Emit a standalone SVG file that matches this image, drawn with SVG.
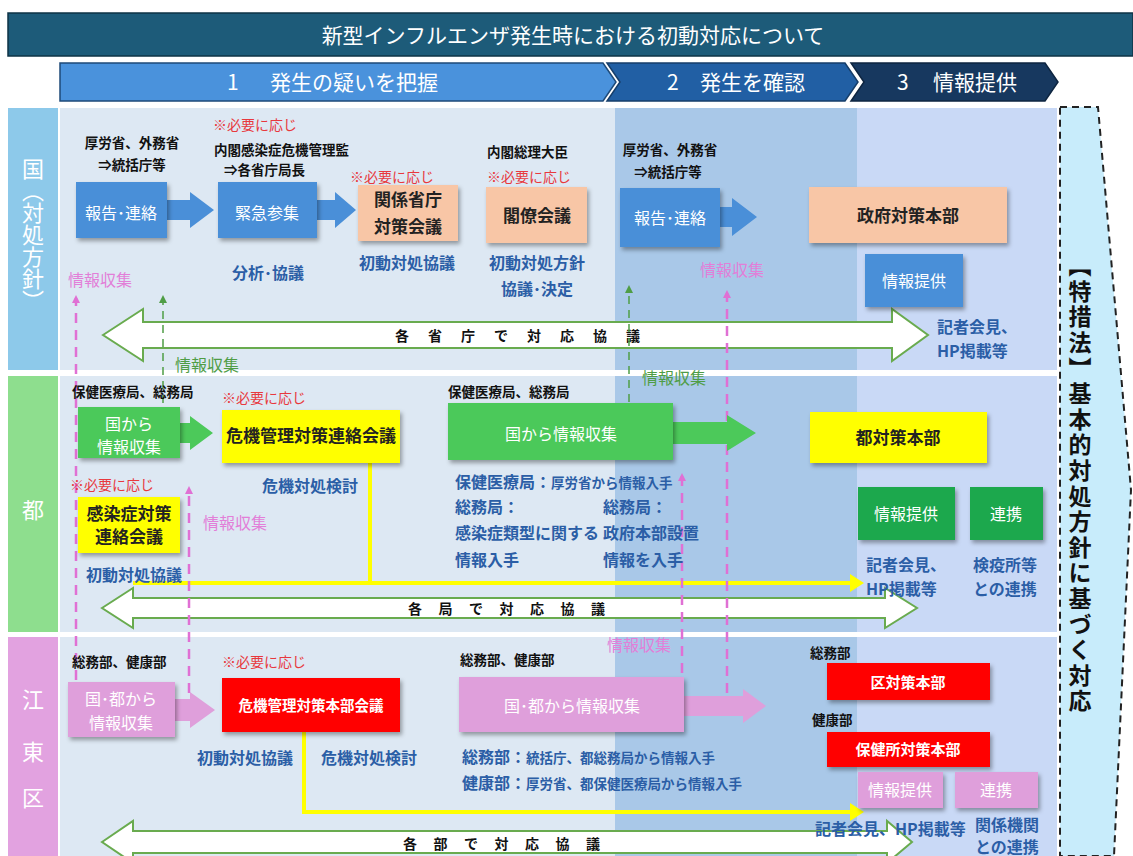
<svg xmlns="http://www.w3.org/2000/svg" width="1133" height="856" viewBox="0 0 1133 856">
<defs>
<style>
text{font-family:"Noto Sans CJK JP","Noto Sans CJK SC",sans-serif}
.blk{font-weight:bold;fill:#111;font-size:13.5px}
.red{fill:#e8383d;font-size:14px}
.blu{fill:#2b5ea6;font-weight:bold;font-size:16px}
.pk{fill:#e27fd8;font-size:16px}
.gr{fill:#4f9d45;font-size:16px}
.wt{fill:#fff;font-size:16px}
.dk{fill:#222;font-weight:bold;font-size:17px}
.mid{text-anchor:middle}
.bxb{fill:#4a8fd8;filter:url(#sh)}
.bxp{fill:#f8c6a6;filter:url(#sh)}
.bxy{fill:#ffff00;filter:url(#sh)}
.bxg{fill:#4cc95a;filter:url(#sh)}
.bxg2{fill:#1fa84e;filter:url(#sh)}
.bxr{fill:#ff0000;filter:url(#sh)}
.bxk{fill:#df9fdb;filter:url(#sh)}
.dbl{fill:#fff;stroke:#69ab4f;stroke-width:2}
.ylw{fill:none;stroke:#ffff00;stroke-width:4}
.dp{fill:none;stroke:#e070d4;stroke-width:2.5;stroke-dasharray:10 7}
.dg{fill:none;stroke:#4f9d45;stroke-width:1.5;stroke-dasharray:8 6}
.phase{fill:#fff;font-size:21px}
.lbl{fill:#fff;font-size:22px}
</style>
<filter id="sh" x="-10%" y="-10%" width="130%" height="140%">
<feDropShadow dx="2" dy="3" stdDeviation="2" flood-color="#000" flood-opacity="0.35"/>
</filter>
<marker id="mp" viewBox="0 0 8 8" refX="5" refY="4" markerWidth="8" markerHeight="8" markerUnits="userSpaceOnUse" orient="auto">
<path d="M0,0 L8,4 L0,8 z" fill="#e070d4"/>
</marker>
<marker id="mg" viewBox="0 0 8 8" refX="5" refY="4" markerWidth="8" markerHeight="8" markerUnits="userSpaceOnUse" orient="auto">
<path d="M0,0 L8,4 L0,8 z" fill="#4f9d45"/>
</marker>
</defs>

<rect width="1133" height="856" fill="#fff"/>

<!-- title -->
<g id="title">
<rect x="8" y="13" width="1125" height="43" fill="#1d5b79" stroke="#0e3346" stroke-width="1.5"/>
<text x="573" y="43" class="mid" fill="#fff" font-size="21">新型インフルエンザ発生時における初動対応について</text>
</g>

<!-- phases -->
<g id="phase1">
<polygon points="60,63 603,63 616,82 603,101 60,101" fill="#4a92dc" stroke="#1e4a78" stroke-width="1.5"/>
<text class="phase" x="227" y="90">1<tspan x="270">発生の疑いを把握</tspan></text>
</g>
<g id="phase2">
<polygon points="607,63 845,63 858,82 845,101 607,101 620,82" fill="#215fa4" stroke="#163e6a" stroke-width="1.5"/>
<text class="phase" x="667" y="90">2<tspan x="700">発生を確認</tspan></text>
</g>
<g id="phase3">
<polygon points="851,63 1045,63 1058,82 1045,101 851,101 864,82" fill="#17385f" stroke="#0e2540" stroke-width="1.5"/>
<text class="phase" x="897" y="90">3<tspan x="933">情報提供</tspan></text>
</g>

<!-- backgrounds -->
<g id="backgrounds">
<rect x="8" y="108" width="50" height="262" fill="#8dc9ea"/>
<rect x="8" y="376" width="50" height="256" fill="#8ede8e"/>
<rect x="8" y="637" width="50" height="219" fill="#e2a2e0"/>
<rect x="60" y="108" width="555" height="262" fill="#dde8f3"/>
<rect x="615" y="108" width="242" height="262" fill="#a9c8e8"/>
<rect x="857" y="108" width="200" height="262" fill="#c9d9f6"/>
<rect x="60" y="376" width="555" height="256" fill="#dde8f3"/>
<rect x="615" y="376" width="242" height="256" fill="#a9c8e8"/>
<rect x="857" y="376" width="200" height="256" fill="#c9d9f6"/>
<rect x="60" y="637" width="555" height="219" fill="#dde8f3"/>
<rect x="615" y="637" width="242" height="219" fill="#a9c8e8"/>
<rect x="857" y="637" width="200" height="219" fill="#c9d9f6"/>
</g>

<g id="row-labels">
<text class="lbl" x="33" y="158" style="writing-mode:vertical-rl">国（対処方針）</text>
<text class="lbl mid" x="33" y="518">都</text>
<text class="lbl mid" x="33" y="708">江</text>
<text class="lbl mid" x="33" y="760">東</text>
<text class="lbl mid" x="33" y="806">区</text>
</g>

<!-- right side policy -->
<g id="policy">
<polygon points="1060,107 1098,107 1131,490 1114,856 1060,856" fill="#c8ecfb" stroke="#222" stroke-width="2" stroke-dasharray="7 5"/>
<text x="1080" y="254" fill="#111" font-weight="bold" font-size="23" letter-spacing="2.6" style="writing-mode:vertical-rl">【特措法】基本的対処方針に基づく対応</text>
</g>

<!-- connectors -->
<g id="connectors">
<path class="dbl" d="M103,335 L143,309 L143,322 L892,322 L892,309 L928,335 L892,361 L892,348 L143,348 L143,361 Z"/>
<path class="dbl" d="M102,608 L133,588 L133,598 L885,598 L885,588 L917,608 L885,628 L885,618 L133,618 L133,628 Z"/>
<path class="dbl" d="M102,842 L133,821 L133,831 L887,831 L887,821 L912,842 L887,863 L887,853 L133,853 L133,863 Z"/>
<text x="395" y="341" fill="#111" font-weight="bold" font-size="14" letter-spacing="19">各省庁で対応協議</text>
<text x="408" y="614" fill="#111" font-weight="bold" font-size="14" letter-spacing="16.5">各局で対応協議</text>
<text x="403" y="849" fill="#111" font-weight="bold" font-size="14" letter-spacing="16.5">各部で対応協議</text>

<path class="ylw" d="M370,463 V583 M133,583 H852"/>
<polygon points="850,574 864,583 850,592" fill="#ffff00"/>
<path class="ylw" d="M304,732 V812 H852"/>
<polygon points="850,803 864,812 850,821" fill="#ffff00"/>

<line class="dp" x1="76" y1="680" x2="76" y2="298" marker-end="url(#mp)"/>
<line class="dp" x1="189" y1="693" x2="189" y2="489" marker-end="url(#mp)"/>
<line class="dp" x1="682" y1="673" x2="682" y2="476" marker-end="url(#mp)"/>
<line class="dp" x1="727" y1="693" x2="727" y2="293" marker-end="url(#mp)"/>
<line class="dg" x1="163" y1="403" x2="163" y2="298" marker-end="url(#mg)"/>
<line class="dg" x1="629" y1="402" x2="629" y2="288" marker-end="url(#mg)"/>

<text class="pk" x="68" y="286">情報収集</text>
<text class="gr" x="175" y="371">情報収集</text>
<text class="pk" x="700" y="276">情報収集</text>
<text class="gr" x="642" y="384">情報収集</text>
<text class="pk" x="203" y="529">情報収集</text>
<text class="pk" x="607" y="651">情報収集</text>
</g>

<!-- 国 row -->
<g id="kuni-report">
<text class="blk mid" x="132" y="148">厚労省、外務省</text>
<text class="blk mid" x="132" y="170">⇒統括庁等</text>
<path d="M160,200 H190 V192 L214,210 L190,228 V220 H160 Z" fill="#4a8fd8"/>
<rect class="bxb" x="76" y="182" width="91" height="56"/>
<text class="wt mid" x="121" y="219">報告･連絡</text>
</g>
<g id="kuni-sanshu">
<text class="red" x="213" y="130">※必要に応じ</text>
<text class="blk" x="214" y="155">内閣感染症危機管理監</text>
<text class="blk" x="224" y="175">⇒各省庁局長</text>
<path d="M310,200 H335 V192 L356,210 L335,228 V220 H310 Z" fill="#4a8fd8"/>
<rect class="bxb" x="218" y="182" width="99" height="56"/>
<text class="wt mid" x="267" y="219">緊急参集</text>
<text class="blu mid" x="268" y="279">分析･協議</text>
</g>
<g id="kuni-kankei">
<text class="red" x="350" y="182">※必要に応じ</text>
<rect class="bxp" x="358" y="185" width="100" height="56"/>
<text class="dk mid" x="408" y="206">関係省庁</text>
<text class="dk mid" x="408" y="233">対策会議</text>
<text class="blu mid" x="407" y="269">初動対処協議</text>
</g>
<g id="kuni-kakuryo">
<text class="blk" x="487" y="157">内閣総理大臣</text>
<text class="red" x="487" y="182">※必要に応じ</text>
<rect class="bxp" x="486" y="187" width="101" height="56"/>
<text class="dk mid" x="537" y="222">閣僚会議</text>
<text class="blu mid" x="537" y="269">初動対処方針</text>
<text class="blu mid" x="537" y="295">協議･決定</text>
</g>
<g id="kuni-report2">
<text class="blk mid" x="670" y="155">厚労省、外務省</text>
<text class="blk mid" x="668" y="177">⇒統括庁等</text>
<path d="M715,207 H732 V198 L757,217 L732,236 V227 H715 Z" fill="#4a8fd8"/>
<rect class="bxb" x="620" y="188" width="100" height="59"/>
<text class="wt mid" x="670" y="224">報告･連絡</text>
</g>
<g id="kuni-honbu">
<rect class="bxp" x="809" y="187" width="198" height="56"/>
<text class="dk mid" x="908" y="222">政府対策本部</text>
</g>
<g id="kuni-teikyo">
<rect class="bxb" x="865" y="254" width="98" height="53"/>
<text class="wt mid" x="914" y="287">情報提供</text>
<text class="blu" x="937" y="333" font-size="14.5">記者会見、</text>
<text class="blu" x="937" y="357" font-size="14.5">HP掲載等</text>
</g>

<!-- 都 row -->
<g id="to-shushu">
<text class="blk" x="72" y="397">保健医療局、総務局</text>
<path d="M175,423 H190 V416 L213,433 L190,450 V443 H175 Z" fill="#4cc95a"/>
<rect class="bxg" x="78" y="407" width="102" height="51"/>
<text class="wt mid" x="129" y="430" font-size="14">国から</text>
<text class="wt mid" x="129" y="453" font-size="14">情報収集</text>
</g>
<g id="to-renraku">
<text class="red" x="222" y="403">※必要に応じ</text>
<rect class="bxy" x="222" y="410" width="178" height="53"/>
<text class="dk mid" x="311" y="442" font-size="14.5">危機管理対策連絡会議</text>
<text class="blu mid" x="310" y="492">危機対処検討</text>
</g>
<g id="to-kansen">
<text class="red" x="70" y="490">※必要に応じ</text>
<rect class="bxy" x="78" y="497" width="102" height="56"/>
<text class="dk mid" x="129" y="520" font-size="14">感染症対策</text>
<text class="dk mid" x="129" y="543" font-size="14">連絡会議</text>
<text class="blu mid" x="134" y="581">初動対処協議</text>
</g>
<g id="to-shushu2">
<text class="blk" x="448" y="397">保健医療局、総務局</text>
<path d="M670,422 H727 V415 L756,433 L727,451 V444 H670 Z" fill="#4cc95a"/>
<rect class="bxg" x="448" y="403" width="225" height="57"/>
<text class="wt mid" x="561" y="440" font-size="15">国から情報収集</text>
<text class="blu" x="455" y="488">保健医療局：<tspan font-size="13.5">厚労省から情報入手</tspan></text>
<text class="blu" x="455" y="513">総務局：</text>
<text class="blu" x="455" y="539">感染症類型に関する</text>
<text class="blu" x="455" y="566">情報入手</text>
<text class="blu" x="603" y="513">総務局：</text>
<text class="blu" x="603" y="539">政府本部設置</text>
<text class="blu" x="603" y="566">情報を入手</text>
</g>
<g id="to-honbu">
<rect class="bxy" x="810" y="412" width="177" height="51"/>
<text class="dk mid" x="898" y="444" font-size="15">都対策本部</text>
</g>
<g id="to-teikyo">
<rect class="bxg2" x="858" y="487" width="97" height="53"/>
<text class="wt mid" x="906" y="520">情報提供</text>
<text class="blu" x="866" y="571" font-size="15">記者会見、</text>
<text class="blu" x="866" y="595" font-size="15">HP掲載等</text>
</g>
<g id="to-renkei">
<rect class="bxg2" x="970" y="487" width="73" height="53"/>
<text class="wt mid" x="1006" y="520">連携</text>
<text class="blu" x="973" y="571" font-size="15">検疫所等</text>
<text class="blu" x="973" y="595" font-size="15">との連携</text>
</g>

<!-- 江東区 row -->
<g id="koto-shushu">
<text class="blk" x="72" y="667">総務部、健康部</text>
<path d="M170,699 H190 V692 L215,710 L190,728 V721 H170 Z" fill="#df9fdb"/>
<rect class="bxk" x="68" y="682" width="107" height="55"/>
<text class="wt mid" x="121" y="705" font-size="14.5">国･都から</text>
<text class="wt mid" x="121" y="729" font-size="14.5">情報収集</text>
</g>
<g id="koto-kaigi">
<text class="red" x="222" y="667">※必要に応じ</text>
<rect class="bxr" x="222" y="678" width="178" height="54"/>
<text class="mid" x="311" y="711" fill="#fff" font-weight="bold" font-size="14.5">危機管理対策本部会議</text>
<text class="blu mid" x="245" y="764">初動対処協議</text>
<text class="blu mid" x="369" y="764">危機対処検討</text>
</g>
<g id="koto-shushu2">
<text class="blk" x="460" y="665">総務部、健康部</text>
<path d="M680,696 H743 V689 L766,706 L743,723 V716 H680 Z" fill="#df9fdb"/>
<rect class="bxk" x="459" y="677" width="225" height="55"/>
<text class="wt mid" x="572" y="712" font-size="15">国･都から情報収集</text>
<text class="blu" x="462" y="763" font-size="15">総務部：<tspan font-size="13.5">統括庁、都総務局から情報入手</tspan></text>
<text class="blu" x="462" y="789" font-size="15">健康部：<tspan font-size="13.5">厚労省、都保健医療局から情報入手</tspan></text>
</g>
<g id="koto-honbu">
<text class="blk" x="810" y="658" font-size="13">総務部</text>
<rect class="bxr" x="827" y="663" width="163" height="37"/>
<text class="mid" x="908" y="688" fill="#fff" font-weight="bold" font-size="15">区対策本部</text>
</g>
<g id="koto-hokenjo">
<text class="blk" x="812" y="725" font-size="13">健康部</text>
<rect class="bxr" x="827" y="732" width="163" height="35"/>
<text class="mid" x="908" y="755" fill="#fff" font-weight="bold" font-size="15">保健所対策本部</text>
</g>
<g id="koto-teikyo">
<rect class="bxk" x="858" y="772" width="85" height="36"/>
<text class="wt mid" x="900" y="796" font-size="15">情報提供</text>
<text class="blu" x="815" y="835" font-size="13">記者会見、HP掲載等</text>
</g>
<g id="koto-renkei">
<rect class="bxk" x="955" y="772" width="83" height="36"/>
<text class="wt mid" x="996" y="796" font-size="15">連携</text>
<text class="blu" x="975" y="831" font-size="13.5">関係機関</text>
<text class="blu" x="975" y="853" font-size="13.5">との連携</text>
</g>
</svg>
